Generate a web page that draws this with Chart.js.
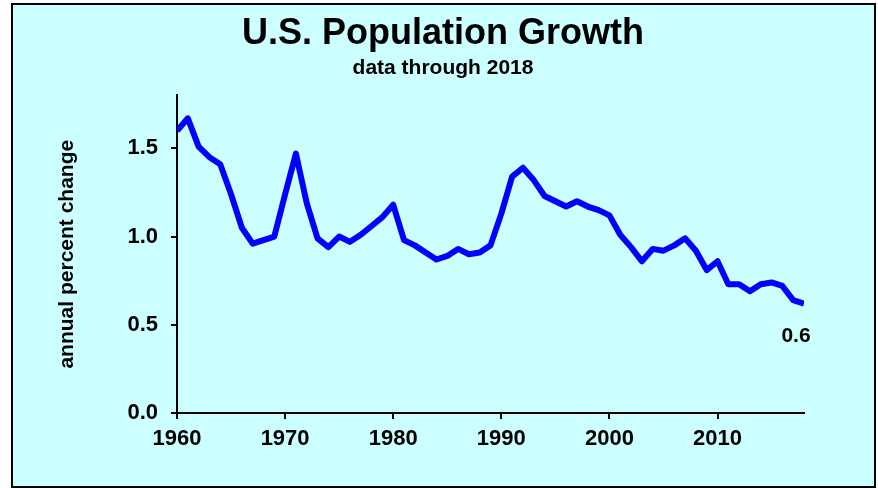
<!DOCTYPE html>
<html>
<head>
<meta charset="utf-8">
<script src="https://cdn.jsdelivr.net/npm/chart.js@4"></script>
<style>
  html, body { margin: 0; padding: 0; background: #fff; }
  #frame {
    position: absolute; left: 11px; top: 3px;
    width: 861px; height: 481px;
    border: 2px solid #000;
    background: #ccffff;
  }
  #chartCanvas { position: absolute; left: 0; top: 0; }
</style>
</head>
<body>
<div id="frame"></div>
<canvas id="chartCanvas" width="878" height="488"></canvas>
<script>
const years = [
    1960, 1961, 1962, 1963, 1964, 1965, 1966, 1967, 1968, 1969,
    1970, 1971, 1972, 1973, 1974, 1975, 1976, 1977, 1978, 1979,
    1980, 1981, 1982, 1983, 1984, 1985, 1986, 1987, 1988, 1989,
    1990, 1991, 1992, 1993, 1994, 1995, 1996, 1997, 1998, 1999,
    2000, 2001, 2002, 2003, 2004, 2005, 2006, 2007, 2008, 2009,
    2010, 2011, 2012, 2013, 2014, 2015, 2016, 2017, 2018
];

// annual percent change
const growth = [
    1.60, 1.67, 1.51, 1.45, 1.41, 1.24, 1.05, 0.96, 0.98, 1.00,
    1.24, 1.47, 1.19, 0.99, 0.94, 1.00, 0.97, 1.01, 1.06, 1.11,
    1.18, 0.98, 0.95, 0.91, 0.87, 0.89, 0.93, 0.90, 0.91, 0.95,
    1.13, 1.34, 1.39, 1.32, 1.23, 1.20, 1.17, 1.20, 1.17, 1.15,
    1.12, 1.01, 0.94, 0.86, 0.93, 0.92, 0.95, 0.99, 0.92, 0.81,
    0.86, 0.73, 0.73, 0.69, 0.73, 0.74, 0.72, 0.64, 0.62
];

const xTicks = [1960, 1970, 1980, 1990, 2000, 2010];
const yTicks = [0, 0.5, 1.0, 1.5];
const endLabel = '0.6';

const FONT = "'Liberation Sans', Arial, sans-serif";

// writes the last value under the end of the line
const endLabelPlugin = {
    id: 'endLabel',
    afterDatasetsDraw(chart) {
        const meta = chart.getDatasetMeta(0);
        const last = meta.data[meta.data.length - 1];
        const ctx = chart.ctx;
        ctx.save();
        ctx.font = 'bold 21px ' + FONT;
        ctx.fillStyle = '#000';
        ctx.textAlign = 'center';
        ctx.textBaseline = 'middle';
        ctx.fillText(endLabel, last.x - 8, last.y + 33);
        ctx.restore();
    }
};

const ctx = document.getElementById('chartCanvas').getContext('2d');

const chart = new Chart(ctx, {
    type: 'line',
    data: {
        datasets: [{
            label: 'Growth',
            data: years.map((y, i) => ({ x: y, y: growth[i] })),
            borderColor: '#0000ff',
            borderWidth: 6,
            pointRadius: 0,
            fill: false,
            tension: 0,
            borderJoinStyle: 'round'
        }]
    },
    options: {
        responsive: false,
        devicePixelRatio: 1,
        animation: false,
        layout: {
            padding: { left: 8, right: 0, top: 0, bottom: 0 }
        },
        scales: {
            x: {
                type: 'linear',
                min: 1960,
                max: 2018,
                afterBuildTicks: (scale) => {
                    scale.ticks = xTicks.map(v => ({ value: v }));
                },
                afterFit: (scale) => { scale.height = 75; },
                grid: {
                    drawOnChartArea: false,
                    drawTicks: true,
                    tickLength: 6,
                    color: '#000',
                    lineWidth: 2
                },
                border: { display: true, color: '#000', width: 2 },
                ticks: {
                    color: '#000',
                    padding: 7,
                    maxRotation: 0,
                    font: { family: FONT, size: 22, weight: 'bold' },
                    callback: (v) => String(v)
                }
            },
            y: {
                min: 0,
                max: 1.8,
                afterBuildTicks: (scale) => {
                    scale.ticks = yTicks.map(v => ({ value: v }));
                },
                afterFit: (scale) => { scale.width = 169; },
                grid: {
                    drawOnChartArea: false,
                    drawTicks: true,
                    tickLength: 6,
                    color: '#000',
                    lineWidth: 2
                },
                border: { display: true, color: '#000', width: 2 },
                ticks: {
                    color: '#000',
                    padding: 13,
                    font: { family: FONT, size: 22, weight: 'bold' },
                    callback: (v) => v.toFixed(1)
                },
                title: {
                    display: true,
                    text: 'annual percent change',
                    color: '#000',
                    padding: { top: 47, bottom: 0 },
                    font: { family: FONT, size: 21, weight: 'bold' }
                }
            },
            // empty right-hand scale, only reserves the space right of the plot
            yRight: {
                position: 'right',
                min: 0,
                max: 1.8,
                afterFit: (scale) => { scale.width = 74; },
                grid: { display: false },
                border: { display: false },
                ticks: { display: false }
            }
        },
        plugins: {
            legend: { display: false },
            tooltip: { enabled: false },
            title: {
                display: true,
                text: 'U.S. Population Growth',
                color: '#000',
                padding: { top: 12, bottom: 0 },
                font: { family: FONT, size: 36, weight: 'bold' }
            },
            subtitle: {
                display: true,
                text: 'data through 2018',
                color: '#000',
                padding: { top: 0, bottom: 15 },
                font: { family: FONT, size: 21, weight: 'bold' }
            }
        }
    },
    plugins: [endLabelPlugin]
});
</script>
</body>
</html>
